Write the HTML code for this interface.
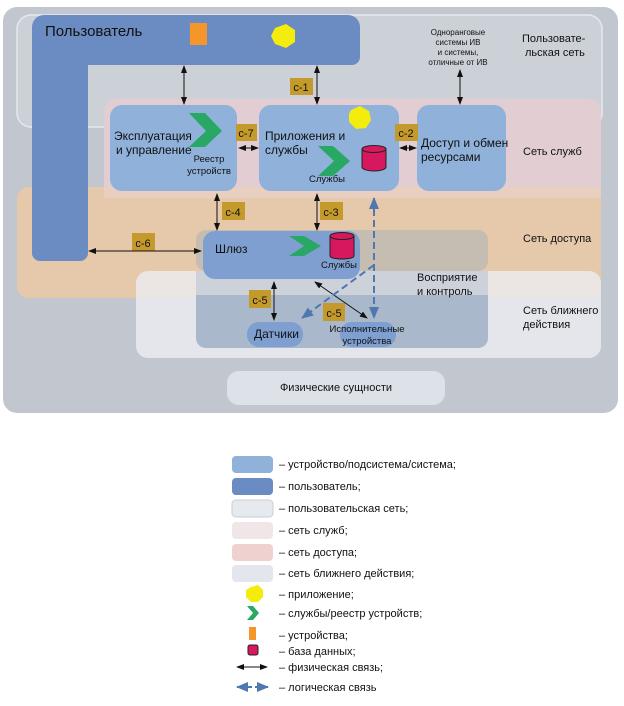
<!DOCTYPE html>
<html><head><meta charset="utf-8"><style>
body{margin:0;background:#fff;}
svg text{font-family:"Liberation Sans",sans-serif;}
</style></head><body>
<svg width="624" height="701" viewBox="0 0 624 701" xmlns="http://www.w3.org/2000/svg">
<defs>
<marker id="a" markerWidth="8" markerHeight="6" refX="7" refY="3" orient="auto-start-reverse" markerUnits="userSpaceOnUse"><path d="M0,0 L8,3 L0,6z" fill="#111"/></marker>
<marker id="b" markerWidth="12" markerHeight="10" refX="11" refY="5" orient="auto-start-reverse" markerUnits="userSpaceOnUse"><path d="M0,0 L12,5 L0,10z" fill="#4f78b0"/></marker>
</defs>
<rect width="624" height="701" fill="#fff"/>
<rect x="3" y="7" width="615" height="406" rx="14" fill="#c2c7cf"/>
<rect x="17" y="15" width="585" height="112" rx="14" fill="#ccd1d8" stroke="#e6e9ee" stroke-width="1.5"/>
<rect x="104" y="99" width="497" height="99" rx="12" fill="#e3cdd2" opacity="0.95"/>
<rect x="17" y="187" width="584" height="111" rx="12" fill="#e6c8ab"/>
<rect x="104" y="187" width="497" height="11" fill="#e8cfc0"/>
<rect x="136" y="271" width="465" height="87" rx="12" fill="#eceef3" opacity="0.8"/>
<rect x="196" y="230" width="292" height="41" rx="10" fill="#c5bdb2"/>
<rect x="196" y="271" width="292" height="24" fill="#cdd2da"/>
<path d="M196,295 H488 V338 a10,10 0 0 1 -10,10 H206 a10,10 0 0 1 -10,-10z" fill="#a9b8cb"/>
<path d="M32,27 a12,12 0 0 1 12,-12 H348 a12,12 0 0 1 12,12 V57 a8,8 0 0 1 -8,8 H88 V253 a8,8 0 0 1 -8,8 H40 a8,8 0 0 1 -8,-8z" fill="#6b8bc3"/>
<text x="45" y="36" font-size="15" fill="#111">Пользователь</text>
<rect x="190" y="23" width="17" height="22" fill="#f4962a"/>
<polygon points="275,28 286,24 295,30 295,42 286,48 275,44 271,36" fill="#f4ec0c"/>
<rect x="110" y="105" width="127" height="86" rx="12" fill="#8fb1da"/>
<rect x="259" y="105" width="140" height="86" rx="12" fill="#8fb1da"/>
<rect x="417" y="105" width="89" height="86" rx="12" fill="#8fb1da"/>
<rect x="203" y="231" width="157" height="48" rx="12" fill="#7e9fd0"/>
<rect x="247" y="322" width="56" height="25" rx="12" fill="#7e9fd0"/>
<rect x="340" y="322" width="56" height="25" rx="12" fill="#7e9fd0"/>
<rect x="227" y="371" width="218" height="34" rx="12" fill="#dde1e8"/>
<text x="336" y="391" font-size="11" text-anchor="middle" fill="#111">Физические сущности</text>
<polygon points="189,113 205,113 222,131 205,147 189,147 206,131" fill="#28a765"/>
<polygon points="318,146 333,146 350,161 333,176 318,176 334,161" fill="#28a765"/>
<polygon points="289,236 304,236 321,246 304,256 289,256 304,246" fill="#28a765"/>
<g fill="#d8185e" stroke="#222" stroke-width="1">
<path d="M362,149 v18 a9,3 0 0 0 24,0 v-18z"/><ellipse cx="374" cy="149" rx="12" ry="3.5"/>
<path d="M330,236 v20 a12,3 0 0 0 24,0 v-20z"/><ellipse cx="342" cy="236" rx="12" ry="3.5"/>
</g>
<polygon points="351,110 360,106 369,111 371,120 366,128 356,129 349,122 349,114" fill="#f4ec0c"/>
<g font-size="12" fill="#111">
<text x="114" y="140">Эксплуатация</text><text x="116" y="154">и управление</text>
<text x="265" y="140">Приложения и</text><text x="265" y="154">службы</text>
<text x="421" y="147">Доступ и обмен</text><text x="421" y="161">ресурсами</text>
<text x="215" y="253">Шлюз</text>
<text x="254" y="338">Датчики</text>
</g>
<g font-size="9.5" fill="#111">
<text x="209" y="162" text-anchor="middle">Реестр</text><text x="209" y="174" text-anchor="middle">устройств</text>
<text x="327" y="182" text-anchor="middle">Службы</text>
<text x="339" y="268" text-anchor="middle">Службы</text>
<text x="367" y="332" text-anchor="middle">Исполнительные</text><text x="367" y="344" text-anchor="middle">устройства</text>
</g>
<g font-size="8" fill="#111" text-anchor="middle">
<text x="458" y="35">Одноранговые</text><text x="458" y="45">системы ИВ</text><text x="458" y="55">и системы,</text><text x="458" y="65">отличные от ИВ</text>
</g>
<g font-size="11" fill="#111">
<text x="522" y="42">Пользовате-</text><text x="525" y="56">льская сеть</text>
<text x="523" y="155">Сеть служб</text>
<text x="523" y="242">Сеть доступа</text>
<text x="523" y="314">Сеть ближнего</text><text x="523" y="328">действия</text>
<text x="417" y="281">Восприятие</text><text x="417" y="295">и контроль</text>
</g>
<g fill="#c49a2c"><rect x="290" y="78" width="23" height="17"/><rect x="236" y="124" width="21" height="17"/><rect x="395" y="124" width="23" height="17"/><rect x="222" y="202" width="23" height="18"/><rect x="320" y="202" width="23" height="18"/><rect x="132" y="233" width="23" height="18"/><rect x="249" y="290" width="22" height="18"/><rect x="323" y="303" width="22" height="18"/></g>
<g font-size="11" fill="#111" text-anchor="middle">
<text x="301" y="91">c-1</text><text x="246" y="137">c-7</text><text x="406" y="137">c-2</text><text x="233" y="216">c-4</text><text x="331" y="216">c-3</text><text x="143" y="247">c-6</text><text x="260" y="304">c-5</text><text x="334" y="317">c-5</text>
</g>
<g stroke="#111" stroke-width="1" marker-start="url(#a)" marker-end="url(#a)">
<line x1="184" y1="66" x2="184" y2="104"/>
<line x1="317" y1="66" x2="317" y2="104"/>
<line x1="460" y1="70" x2="460" y2="104"/>
<line x1="239" y1="148" x2="258" y2="148"/>
<line x1="400" y1="148" x2="416" y2="148"/>
<line x1="217" y1="194" x2="217" y2="230"/>
<line x1="317" y1="194" x2="317" y2="230"/>
<line x1="89" y1="251" x2="201" y2="251"/>
<line x1="274" y1="282" x2="274" y2="320"/>
<line x1="315" y1="282" x2="367" y2="318"/>
</g>
<g stroke="#4f78b0" stroke-width="2" stroke-dasharray="7,4" fill="none">
<line x1="374" y1="198" x2="374" y2="318" marker-start="url(#b)" marker-end="url(#b)"/>
<line x1="374" y1="265" x2="302" y2="318" marker-end="url(#b)"/>
</g>
<g>
<rect x="232" y="456" width="41" height="17" rx="4" fill="#8fb1da"/>
<rect x="232" y="478" width="41" height="17" rx="4" fill="#6b8bc3"/>
<rect x="232" y="500" width="41" height="17" rx="4" fill="#e6e9ee" stroke="#c9ced6"/>
<rect x="232" y="522" width="41" height="17" rx="4" fill="#f0e6e8"/>
<rect x="232" y="544" width="41" height="17" rx="4" fill="#efd2cf"/>
<rect x="232" y="565" width="41" height="17" rx="4" fill="#e3e6ec"/>
<polygon points="251,587 258,585 263,590 263,597 258,602 251,602 246,597 246,590" fill="#f4ec0c"/>
<polygon points="247,606 253,606 259,613 253,620 247,620 253,613" fill="#28a765"/>
<rect x="249" y="627" width="7" height="13" fill="#f4962a"/>
<rect x="248" y="645" width="10" height="10" rx="2" fill="#d8185e" stroke="#222"/>
<line x1="237" y1="667" x2="267" y2="667" stroke="#111" marker-start="url(#a)" marker-end="url(#a)"/>
<line x1="237" y1="687" x2="268" y2="687" stroke="#4f78b0" stroke-width="2" stroke-dasharray="6,3" marker-start="url(#b)" marker-end="url(#b)"/>
</g>
<g font-size="11" fill="#111">
<text x="279" y="468">– устройство/подсистема/система;</text>
<text x="279" y="490">– пользователь;</text>
<text x="279" y="512">– пользовательская сеть;</text>
<text x="279" y="534">– сеть служб;</text>
<text x="279" y="556">– сеть доступа;</text>
<text x="279" y="577">– сеть ближнего действия;</text>
<text x="279" y="598">– приложение;</text>
<text x="279" y="617">– службы/реестр устройств;</text>
<text x="279" y="639">– устройства;</text>
<text x="279" y="655">– база данных;</text>
<text x="279" y="671">– физическая связь;</text>
<text x="279" y="691">– логическая связь</text>
</g>
</svg>
</body></html>
